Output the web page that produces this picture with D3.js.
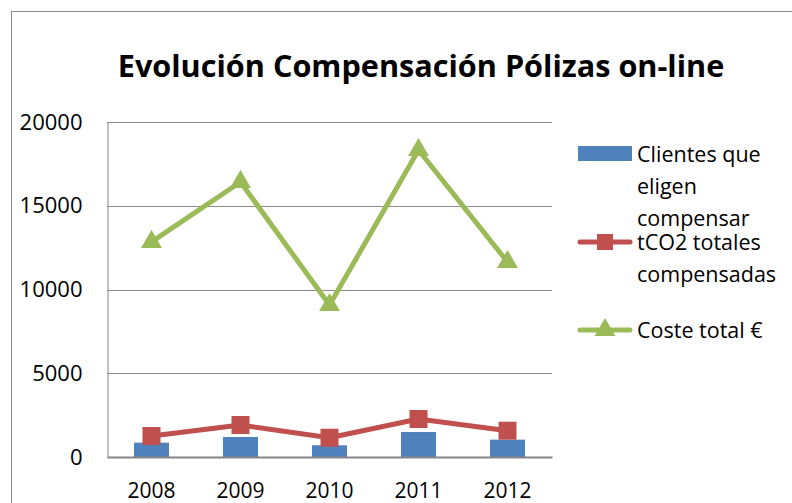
<!DOCTYPE html>
<html>
<head>
<meta charset="utf-8">
<script src="https://cdn.jsdelivr.net/npm/d3@7"></script>
<style>
  body { margin: 0; background: #fff; }
  svg text { font-family: "Open Sans", sans-serif; fill: #000; }
</style>
</head>
<body>
<div id="chart"></div>
<script>
  "use strict";

  // chart data
  var years = ["2008", "2009", "2010", "2011", "2012"];
  var clientes = [855, 1195, 700, 1490, 1035];
  var tco2 = [1255, 1910, 1150, 2270, 1570];
  var coste = [12840, 16420, 9070, 18330, 11640];
  var yTicks = [0, 5000, 10000, 15000, 20000];
  var legendItems = [
    { lines: ["Clientes que", "eligen", "compensar"], type: "bar" },
    { lines: ["tCO2 totales", "compensadas"], type: "square" },
    { lines: ["Coste total €"], type: "triangle" }
  ];

  var width = 792, height = 503;
  var plot = { left: 107, right: 552, top: 122, bottom: 457 };
  var colors = { bar: "#4F81BD", square: "#C0504D", triangle: "#9BBB59" };

  var svg = d3.select("#chart")
    .append("svg")
    .attr("width", width)
    .attr("height", height);

  // outer chart border (right and bottom sides fall off the picture)
  svg.append("rect")
    .attr("x", 11.5).attr("y", 11.5)
    .attr("width", 900).attr("height", 600)
    .attr("fill", "none")
    .attr("stroke", "#898989");

  // title, sized to fit the reference width
  var title = svg.append("text")
    .attr("x", 421).attr("y", 77)
    .attr("text-anchor", "middle")
    .style("font-weight", "bold")
    .style("font-size", "36px")
    .text("Evolución Compensación Pólizas on-line");
  var tw = title.node().getComputedTextLength();
  title.style("font-size", (36 * 607 / tw) + "px");

  var x = d3.scaleBand().domain(years).range([plot.left, plot.right]);
  var y = d3.scaleLinear().domain([0, 20000]).range([plot.bottom, plot.top]);

  // gridlines
  svg.append("g")
    .selectAll("line")
    .data(yTicks.slice(1))
    .enter()
    .append("line")
    .attr("x1", plot.left).attr("x2", plot.right)
    .attr("y1", function(d) { return Math.round(y(d)) + 0.5; })
    .attr("y2", function(d) { return Math.round(y(d)) + 0.5; })
    .attr("stroke", "#8c8c8c");

  // y axis
  var yAxis = svg.append("g")
    .attr("transform", "translate(" + (plot.left + 0.5) + ",0)")
    .call(d3.axisLeft(y).tickValues(yTicks).tickSize(0).tickPadding(25).tickFormat(d3.format("d")));
  yAxis.select(".domain").attr("stroke", "#868686");
  yAxis.selectAll("text").style("font-size", "22px").style("font-family", "Open Sans");

  // bars
  var barW = 35;
  svg.append("g")
    .selectAll("rect")
    .data(clientes)
    .enter()
    .append("rect")
    .attr("x", function(d, i) { return x(years[i]) + x.bandwidth() / 2 - barW / 2; })
    .attr("y", function(d) { return y(d); })
    .attr("width", barW)
    .attr("height", function(d) { return plot.bottom - y(d); })
    .attr("fill", colors.bar);

  // x axis
  var xAxis = svg.append("g")
    .attr("transform", "translate(0," + plot.bottom + ")")
    .call(d3.axisBottom(x).tickSize(0).tickPadding(26));
  xAxis.select(".domain").attr("stroke", "#868686").attr("stroke-width", 2);
  xAxis.selectAll("text").style("font-size", "21px").style("font-family", "Open Sans");

  var line = d3.line()
    .x(function(d, i) { return x(years[i]) + x.bandwidth() / 2; })
    .y(function(d) { return y(d); });

  var square = d3.symbol().type(d3.symbolSquare).size(324);
  var triangle = d3.symbol().type(d3.symbolTriangle).size(190);

  function series(values, color, sym) {
    var g = svg.append("g");
    g.append("path")
      .datum(values)
      .attr("d", line)
      .attr("fill", "none")
      .attr("stroke", color)
      .attr("stroke-width", 5)
      .attr("stroke-linejoin", "round");
    g.selectAll(".mk")
      .data(values)
      .enter()
      .append("path")
      .attr("class", "mk")
      .attr("transform", function(d, i) {
        return "translate(" + (x(years[i]) + x.bandwidth() / 2) + "," + y(d) + ")";
      })
      .attr("d", sym)
      .attr("fill", color);
  }

  series(tco2, colors.square, square);
  series(coste, colors.triangle, triangle);

  // legend
  var legendY = [154, 242, 330];
  var lineGap = 32;
  var legend = svg.append("g");
  legendItems.forEach(function(item, k) {
    var cy = legendY[k];
    var g = legend.append("g");
    if (item.type === "bar") {
      g.append("rect")
        .attr("x", 578).attr("y", cy - 8)
        .attr("width", 54).attr("height", 15)
        .attr("fill", colors.bar);
    } else {
      g.append("line")
        .attr("x1", 580).attr("x2", 630)
        .attr("y1", cy).attr("y2", cy)
        .attr("stroke", colors[item.type])
        .attr("stroke-width", 5)
        .attr("stroke-linecap", "round");
      g.append("path")
        .attr("transform", "translate(605," + cy + ")")
        .attr("d", item.type === "square" ? d3.symbol().type(d3.symbolSquare).size(256)() : triangle())
        .attr("fill", colors[item.type]);
    }
    item.lines.forEach(function(t, j) {
      g.append("text")
        .attr("x", 637)
        .attr("y", cy + 8 + j * lineGap)
        .style("font-size", "21.5px")
        .text(t);
    });
  });
</script>
</body>
</html>
